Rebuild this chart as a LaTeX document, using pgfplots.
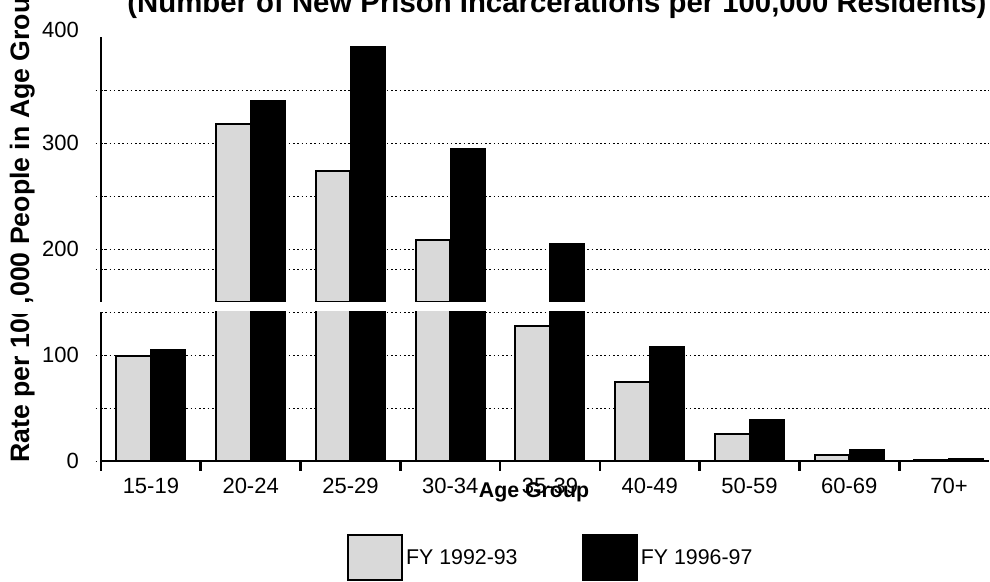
\documentclass[border=0pt]{standalone}
\usepackage{fontspec}
\setmainfont{Liberation Sans}
\usepackage{pgfplots}
\usepackage{pgfplotstable}
\pgfplotsset{compat=1.18}

% rate per 100,000 residents: x = age group index, g = FY 1992-93, b = FY 1996-97
\pgfplotstableread{
x g b
0 99 105.5
1 318 340
2 273.5 391
3 208.5 295
4 128 205
5 75 108.5
6 26 39.5
7 5.5 11
8 1.2 1.8
}\datatable
% values that reach the upper (broken) segment
\pgfplotstableread{
x g
1 318
2 273.5
3 208.5
}\uppergray
\pgfplotstableread{
x b
1 340
2 391
3 295
4 205
}\upperblack

\pgfplotsset{
  common/.style={
    scale only axis, width=666pt, xmin=-0.5, xmax=8.4,
    ybar, bar width=26pt,
    ymajorgrids, grid style={black, line width=0.7pt, dash pattern=on 1.2pt off 2pt},
    ytick align=outside,
    major y tick style={black, line width=0.7pt, dash pattern=on 1.2pt off 2pt},
    major tick length=8pt,
    tick label style={font=\fontsize{16.5}{18}\selectfont},
    yticklabel style={xshift=-9pt},
    /pgf/number format/assume math mode=true,
  },
  nolinearrows/.style={
    axis line style={-, line width=2pt},
    every outer x axis line/.append style={-},
    every outer y axis line/.append style={-},
    x axis line style={-}, y axis line style={-},
  },
}

\begin{document}
\begin{tikzpicture}
\useasboundingbox (0,0) rectangle (742.5pt,436.5pt);
\clip (0,0) rectangle (742.5pt,436.5pt);

% lower segment
\begin{axis}[common,
  at={(75.75pt,90.75pt)}, anchor=south west, height=111.75pt,
  ymin=0, ymax=141,
  axis x line=bottom, axis y line=left, nolinearrows,
  xtick={0,...,8},
  xticklabels={15-19,20-24,25-29,30-34,35-39,40-49,50-59,60-69,70+},
  major x tick style={draw=none},
  minor xtick={-0.5,0.5,...,7.5},
  minor x tick style={black, line width=2pt},
  minor tick length=7.5pt,
  xtick align=outside,
  xticklabel style={yshift=-1pt},
  ytick={0,50,100}, yticklabels={0,,100},
  extra y ticks={141}, extra y tick labels={}, extra y tick style={grid=major, major tick length=0pt},
  legend style={at={(0.272,-0.47)}, anchor=north west, draw=none, fill=none,
    legend columns=2, font=\fontsize{16}{18}\selectfont,
    /tikz/every even column/.append style={column sep=46pt}},
  legend image code/.code={\draw[#1,line width=1.5pt] (0pt,-17pt) rectangle (41pt,17pt);},
]
\addplot[fill=gray!30, draw=black, line width=1.5pt, bar shift=-13pt] table[x=x,y=g]{\datatable};
\addplot[fill=black, draw=black, line width=1pt, bar shift=13pt] table[x=x,y=b]{\datatable};
\legend{FY 1992-93, FY 1996-97}
\end{axis}

% upper segment
\begin{axis}[common,
  at={(75.75pt,210pt)}, anchor=south west, height=198.75pt,
  ymin=150, ymax=400,
  axis x line=none, axis y line=left, nolinearrows,
  ytick={181,200,250,300,350}, yticklabels={,200,,300,},
  extra y ticks={400}, extra y tick labels={400},
  extra y tick style={grid=none, major tick length=0pt, yticklabel style={yshift=5pt, xshift=-4pt}},
]
\addplot[fill=gray!30, draw=black, line width=1.5pt, bar shift=-13pt] table[x=x,y=g]{\uppergray};
\addplot[fill=black, draw=black, line width=1pt, bar shift=13pt] table[x=x,y=b]{\upperblack};
\end{axis}

\node[font=\bfseries\fontsize{22}{24}\selectfont, anchor=base] at (417.75pt,426.75pt)
  {(Number of New Prison Incarcerations per 100,000 Residents)};
\node[rotate=90, anchor=base west, inner sep=0pt, font=\bfseries\fontsize{20}{24}\selectfont]
  at (21.75pt,89.25pt) {Rate per 100,000 People in Age Group};
\fill[white] (0,201pt) rectangle (72pt,210pt);
\node[font=\bfseries\fontsize{16}{18}\selectfont, anchor=base] at (400.5pt,63pt) {Age Group};
\end{tikzpicture}
\end{document}
